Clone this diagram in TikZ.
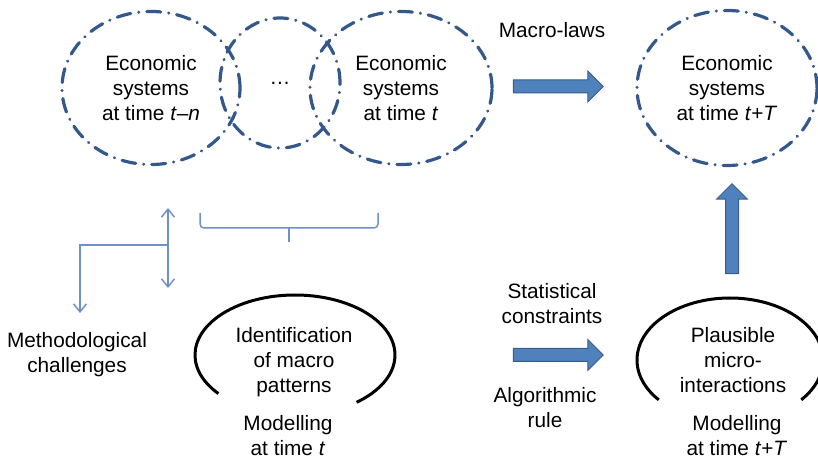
\documentclass[tikz,border=0pt]{standalone}
\usepackage{fontspec}
\setmainfont{Liberation Sans}
\usetikzlibrary{shapes.geometric, shapes.arrows, arrows.meta}
\definecolor{ecoline}{RGB}{53,88,138}
\definecolor{blockfill}{RGB}{79,129,189}
\definecolor{blockedge}{RGB}{56,93,138}
\definecolor{thinblue}{RGB}{110,145,200}

\begin{document}
\begin{tikzpicture}[x=1pt, y=1pt, font=\fontsize{20.8}{25}\selectfont,
    ecosys/.style={ellipse, draw=ecoline, line width=3.2pt, line cap=round, dash pattern=on 14pt off 8pt on 0.1pt off 8pt, align=center, inner sep=0pt},
    txt/.style={align=center, inner sep=0pt},
    blockarrow/.style={single arrow, draw=blockedge, fill=blockfill, line width=1pt, inner sep=0pt, inner ysep=6pt, single arrow head extend=9pt, minimum height=90pt},
    modarc/.style={line width=3pt},
    bluethin/.style={draw=thinblue, line width=1.5pt},
    methtip/.style={{Straight Barb[length=8pt, width=13pt]}-{Straight Barb[length=8pt, width=13pt]}}]
  \useasboundingbox (0, 0) rectangle (818, 460);

  \node[ecosys, minimum width=178pt, minimum height=153pt] (sysn) at (151, 372) {Economic\\systems\\at time \textit{t}–\textit{n}};
  \node[ecosys, minimum width=120pt, minimum height=130pt] (sysdots) at (280, 377) {\dots};
  \node[ecosys, minimum width=182pt, minimum height=153pt] (syst) at (401, 372) {Economic\\systems\\at time \textit{t}};
  \node[ecosys, minimum width=180pt, minimum height=155pt] (systT) at (727, 372) {Economic\\systems\\at time \textit{t}+\textit{T}};

  \node[txt] (macrolaws) at (552, 430) {Macro-laws};
  \node[blockarrow] (macroarrow) at (555, 373.5) {};
  \node[blockarrow, rotate=90] (microarrow) at (732, 228) {};
  \node[blockarrow] (rulearrow) at (555, 105) {};
  \node[txt] (stat) at (552, 156.5) {Statistical\\constraints};
  \node[txt] (algo) at (545, 52) {Algorithmic\\rule};

  \coordinate (identc) at (295, 105);
  \draw[modarc] (identc) ++(220:100 and 60) arc[start angle=220, end angle=-52, x radius=100, y radius=60];
  \node[txt] (ident) at (294, 98) {Identification\\of macro\\patterns};
  \node[txt] (modt) at (288, 24) {Modelling\\at time \textit{t}};

  \coordinate (plausc) at (730, 100);
  \draw[modarc] (plausc) ++(220:93 and 62) arc[start angle=220, end angle=-40, x radius=93, y radius=62];
  \node[txt] (plaus) at (733, 100) {Plausible\\micro-\\interactions};
  \node[txt] (modtT) at (737, 24) {Modelling\\at time \textit{t}+\textit{T}};

  \node[txt] (method) at (77, 105.5) {Methodological\\challenges};
  \coordinate (chup) at (168, 252);
  \coordinate (chdown) at (168, 172);
  \coordinate (chfork) at (168, 215);
  \coordinate (chleft) at (80, 147);
  \draw[bluethin, methtip] (chup) -- (chdown);
  \draw[bluethin, -{Straight Barb[length=8pt, width=13pt]}] (chfork) -| (chleft);
  \draw[bluethin, rounded corners=4pt] (200, 247) -- (200, 232) -- (378, 232) -- (378, 247);
  \draw[bluethin] (289, 232) -- (289, 218);
\end{tikzpicture}
\end{document}
